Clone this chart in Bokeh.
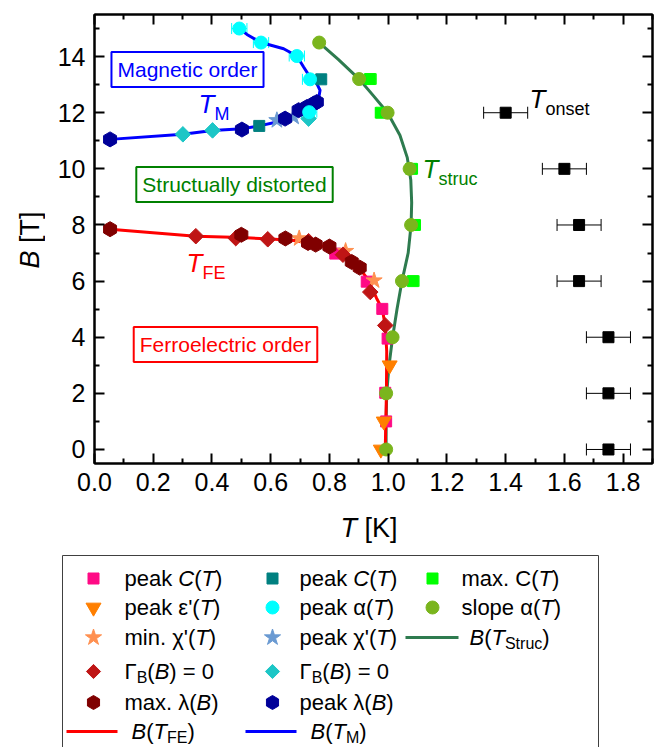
import numpy as np
from bokeh.plotting import figure
from bokeh.models import (Range1d, LinearAxis, FixedTicker, Label, Whisker, TeeHead,
                          ColumnDataSource)
from bokeh.layouts import column, row
from bokeh.embed import file_html
from bokeh.resources import INLINE

FONT = "Liberation Sans"

# ---------------- data (T in K, B in T) ----------------
fe_peakC_T = [0.820, 0.927, 0.980, 0.998, 0.990, 0.993]
fe_peakC_B = [6.98, 5.98, 5.01, 3.95, 2.02, 1.00]
eps_T = [0.975, 0.985, 1.005]
eps_B = [0.0, 1.0, 3.0]
minchi_T = [0.697, 0.855, 0.952]
minchi_B = [7.52, 7.07, 6.02]
fe_gamma_T = [0.345, 0.481, 0.590, 0.729, 0.846, 0.939, 0.990]
fe_gamma_B = [7.60, 7.53, 7.49, 7.42, 6.94, 5.61, 4.42]
fe_lam_T = [0.053, 0.500, 0.650, 0.727, 0.753, 0.800, 0.876, 0.903]
fe_lam_B = [7.85, 7.65, 7.52, 7.36, 7.30, 7.23, 6.68, 6.48]

m_peakC_T = [0.772, 0.561]
m_peakC_B = [13.19, 11.53]
alpha_T = [0.493, 0.567, 0.689, 0.734, 0.731]
alpha_B = [15.00, 14.50, 14.02, 13.19, 12.02]
alpha_err = [0.026, 0.026, 0.026, 0.026, 0.026]
m_chi_T = [0.621, 0.678]
m_chi_B = [11.73, 11.85]
m_gamma_T = [0.301, 0.402, 0.729]
m_gamma_B = [11.23, 11.37, 11.79]
m_lam_T = [0.053, 0.502, 0.649, 0.695, 0.723, 0.746, 0.757]
m_lam_B = [11.05, 11.40, 11.79, 12.09, 12.20, 12.32, 12.38]

maxC_T = [0.939, 0.976, 1.080, 1.090, 1.085]
maxC_B = [13.2, 12.0, 10.0, 8.0, 6.0]
maxC_err = [0.02, 0.02, 0.02, 0.02, 0.02]
slope_T = [0.765, 0.901, 0.998, 1.073, 1.078, 1.047, 1.015, 0.993, 0.993]
slope_B = [14.5, 13.2, 12.0, 10.0, 8.0, 6.0, 4.0, 2.0, 0.0]

onset_T = [1.40, 1.60, 1.65, 1.65, 1.75, 1.75, 1.75]
onset_B = [12, 10, 8, 6, 4, 2, 0]
onset_err = [0.075, 0.075, 0.075, 0.075, 0.075, 0.075, 0.075]

# phase-boundary lines
struc_line_T = [0.765, 0.830, 0.901, 0.950, 0.998, 1.040, 1.065, 1.077, 1.080, 1.078,
                1.068, 1.047, 1.030, 1.015, 1.003, 0.995, 0.993, 0.993]
struc_line_B = [14.5, 13.9, 13.2, 12.6, 12.0, 11.2, 10.4, 9.6, 8.8, 8.0,
                7.0, 6.0, 5.0, 4.0, 3.0, 2.0, 1.0, 0.0]
fe_line_T = [0.053, 0.345, 0.500, 0.600, 0.680, 0.740, 0.800, 0.850, 0.900, 0.935,
             0.960, 0.980, 0.990, 0.995, 0.994, 0.992, 0.990]
fe_line_B = [7.85, 7.60, 7.55, 7.50, 7.45, 7.33, 7.20, 6.95, 6.50, 6.00,
             5.40, 5.00, 4.40, 3.50, 2.00, 1.00, 0.00]
m_line_T = [0.053, 0.301, 0.402, 0.502, 0.561, 0.621, 0.689, 0.746, 0.763, 0.768,
            0.757, 0.734, 0.712, 0.689, 0.644, 0.567, 0.519, 0.493]
m_line_B = [11.05, 11.23, 11.37, 11.43, 11.53, 11.67, 11.94, 12.26, 12.50, 12.80,
            13.04, 13.27, 13.63, 14.02, 14.28, 14.50, 14.79, 15.00]

x_ticks = [0.0, 0.2, 0.4, 0.6, 0.8, 1.0, 1.2, 1.4, 1.6, 1.8]
x_tick_labels = ["0.0", "0.2", "0.4", "0.6", "0.8", "1.0", "1.2", "1.4", "1.6", "1.8"]
x_minor = [0.1, 0.3, 0.5, 0.7, 0.9, 1.1, 1.3, 1.5, 1.7, 1.9]
y_ticks = [0, 2, 4, 6, 8, 10, 12, 14]
y_tick_labels = ["0", "2", "4", "6", "8", "10", "12", "14"]
y_minor = [1, 3, 5, 7, 9, 11, 13, 15]

# ---------------- colours ----------------
C_PINK = "#FF0A85"
C_ORANGE = "#FF7F00"
C_LORANGE = "#FF9050"
C_FIRE = "#BF1515"
C_MAROON = "#800000"
C_TEAL = "#008080"
C_CYAN = "#00FFFF"
C_STEEL = "#6A9AD2"
C_TURQ = "#1CC6C6"
C_NAVY = "#000099"
C_LIME = "#00FF00"
C_OLIVE = "#7AB51D"
C_STRUC = "#2E7B4F"

# ---------------- text width helper (Arial metrics) ----------------
WID = {' ': 278, '(': 333, ')': 333, '.': 278, "'": 191, '=': 584, '[': 278, ']': 278,
       'a': 556, 'b': 556, 'c': 500, 'd': 556, 'e': 556, 'f': 278, 'g': 556, 'h': 556,
       'i': 222, 'j': 222, 'k': 500, 'l': 222, 'm': 833, 'n': 556, 'o': 556, 'p': 556,
       'q': 556, 'r': 333, 's': 500, 't': 278, 'u': 556, 'v': 500, 'w': 722, 'x': 500,
       'y': 500, 'z': 500, 'A': 667, 'B': 667, 'C': 722, 'D': 722, 'E': 667, 'F': 611,
       'K': 667, 'M': 833, 'S': 667, 'T': 611, 'Γ': 552, 'ε': 446, 'α': 578, 'χ': 523,
       'λ': 500}


def tw(s, size):
    return sum(WID.get(ch, 556) for ch in s) / 1000.0 * size


def rich(fig, x0, y0, parts, color="black", conv=lambda a, b: (a, b), rotate=False):
    """Place styled text pieces one after another; (x0, y0) is the start of the baseline."""
    adv = 0.0
    for text, size, style, dy in parts:
        stripped = text.lstrip(" ")
        adv += tw(text[:len(text) - len(stripped)], size)
        mid = 0.35 * size  # cap-centre above baseline
        if rotate:
            px, py = x0 + dy - mid, y0 - adv
        else:
            px, py = x0 + adv, y0 + dy - mid
        dx_, dy_ = conv(px, py)
        fig.add_layout(Label(x=dx_, y=dy_, text=stripped, text_font=FONT,
                             text_font_size=f"{size}px", text_font_style=style,
                             text_color=color, text_align="left",
                             text_baseline="middle",
                             angle=(np.pi / 2 if rotate else 0)))
        adv += tw(stripped, size)


def blank_fig(w, h, xr, yr):
    f = figure(width=w, height=h, x_range=Range1d(*xr), y_range=Range1d(*yr),
               x_axis_type=None, y_axis_type=None, output_backend="svg",
               toolbar_location=None, min_border=0, outline_line_color=None,
               frame_align=False)
    f.grid.visible = False
    f.background_fill_color = "white"
    f.border_fill_color = "white"
    return f


# ---------------- geometry (page pixels) ----------------
TOP_H = 508
YT_W = 45
FL, FR, FT, FB = 94, 652, 14, 463
X0, X1, Y0, Y1 = 0.0, 1.9, -0.5, 15.5

# ---------------- main figure ----------------
p = figure(width=661 - YT_W, height=TOP_H, x_range=Range1d(X0, X1), y_range=Range1d(Y0, Y1),
           output_backend="svg", toolbar_location=None, frame_align=False,
           min_border_left=FL - YT_W, min_border_right=661 - FR, min_border_top=FT,
           min_border_bottom=TOP_H - FB)
p.grid.visible = False
p.outline_line_color = "black"
p.outline_line_width = 2
p.background_fill_color = "white"
p.border_fill_color = "white"


def conv_main(x, y):
    return (X0 + (x - FL) / (FR - FL) * (X1 - X0), Y0 + (FB - y) / (FB - FT) * (Y1 - Y0))


def style_axis(ax, ticks, minor, labels=None):
    ax.ticker = FixedTicker(ticks=ticks, minor_ticks=minor)
    ax.axis_line_width = 2
    ax.axis_line_color = "black"
    ax.major_tick_line_width = 2
    ax.minor_tick_line_width = 2
    ax.major_tick_line_color = "black"
    ax.minor_tick_line_color = "black"
    ax.major_tick_in = 10
    ax.major_tick_out = 0
    ax.minor_tick_in = 5
    ax.minor_tick_out = 0
    ax.axis_label = None
    if labels is not None:
        ax.major_label_overrides = dict(zip(ticks, labels))
        ax.major_label_text_font = FONT
        ax.major_label_text_font_size = "25px"
        ax.major_label_text_color = "black"
        ax.major_label_standoff = 9
    else:
        ax.major_label_overrides = {t: "" for t in ticks}
        ax.major_label_text_font_size = "0px"
        ax.major_label_standoff = 0


style_axis(p.xaxis[0], x_ticks, x_minor, x_tick_labels)
style_axis(p.yaxis[0], y_ticks, y_minor, y_tick_labels)
top_ax = LinearAxis()
right_ax = LinearAxis()
style_axis(top_ax, x_ticks, x_minor)
style_axis(right_ax, y_ticks, y_minor)
p.add_layout(top_ax, "above")
p.add_layout(right_ax, "right")


def hbars(fig, xs, ys, errs, color, head):
    src = ColumnDataSource(dict(base=ys, lower=[a - e for a, e in zip(xs, errs)],
                                upper=[a + e for a, e in zip(xs, errs)]))
    fig.add_layout(Whisker(source=src, base="base", lower="lower", upper="upper",
                           dimension="width", line_color=color, line_width=1,
                           upper_head=TeeHead(size=head, line_color=color, line_width=1),
                           lower_head=TeeHead(size=head, line_color=color, line_width=1)))


hbars(p, alpha_T, alpha_B, alpha_err, C_CYAN, 11)
hbars(p, maxC_T, maxC_B, maxC_err, C_LIME, 11)
hbars(p, onset_T, onset_B, onset_err, "black", 12)

p.line(struc_line_T, struc_line_B, line_color=C_STRUC, line_width=3)
p.line(fe_line_T, fe_line_B, line_color="#FF0000", line_width=3)
p.line(m_line_T, m_line_B, line_color="#0000FF", line_width=3)


def pts(fig, xs, ys, marker, size, color, angle=0.0):
    fig.scatter(xs, ys, marker=marker, size=size, fill_color=color, line_color=color,
                angle=angle)


pts(p, fe_peakC_T, fe_peakC_B, "square", 11, C_PINK)
pts(p, eps_T, eps_B, "inverted_triangle", 15, C_ORANGE)
pts(p, minchi_T, minchi_B, "star", 17, C_LORANGE)
pts(p, fe_gamma_T, fe_gamma_B, "square", 11, C_FIRE, np.pi / 4)
pts(p, fe_lam_T, fe_lam_B, "hex", 15, C_MAROON, np.pi / 6)
pts(p, m_peakC_T, m_peakC_B, "square", 11, C_TEAL)
pts(p, m_chi_T, m_chi_B, "star", 17, C_STEEL)
pts(p, m_gamma_T, m_gamma_B, "square", 11, C_TURQ, np.pi / 4)
pts(p, m_lam_T, m_lam_B, "hex", 15, C_NAVY, np.pi / 6)
pts(p, alpha_T, alpha_B, "circle", 13, C_CYAN)
pts(p, maxC_T, maxC_B, "square", 11, C_LIME)
pts(p, slope_T, slope_B, "circle", 13, C_OLIVE)
pts(p, onset_T, onset_B, "square", 11, "black")


def boxed(fig, xc, yc, text, color):
    x, y = conv_main(xc, yc)
    fig.add_layout(Label(x=x, y=y, text=text, text_font=FONT, text_font_size="21px",
                         text_color=color, text_align="center", text_baseline="middle",
                         border_line_color=color, border_line_width=2,
                         background_fill_color="white", padding=6))


boxed(p, 187, 69, "Magnetic order", "#0000FF")
boxed(p, 234, 184, "Structually distorted", "#008000")
boxed(p, 225, 344, "Ferroelectric order", "#FF0000")

rich(p, 198, 113, [("T", 26, "italic", 0), ("M", 18, "normal", 7)], "#0000FF", conv_main)
rich(p, 186, 272, [("T", 26, "italic", 0), ("FE", 18, "normal", 7)], "#FF0000", conv_main)
rich(p, 422, 178, [("T", 26, "italic", 0), ("struc", 18, "normal", 7)], "#008000", conv_main)
rich(p, 529, 108, [("T", 26, "italic", 0), ("onset", 18, "normal", 7)], "black", conv_main)

# ---------------- y-axis title strip ----------------
yt = blank_fig(YT_W, TOP_H, (0, YT_W), (TOP_H, 0))
rich(yt, 39, 268, [("B", 27, "italic", 0), (" [T]", 27, "normal", 0)], rotate=True)

# ---------------- legend figure (also holds the x-axis title) ----------------
leg = blank_fig(661, 747 - TOP_H, (0, 661), (747, TOP_H))
rich(leg, 340, 537, [("T", 27, "italic", 0), (" [K]", 27, "normal", 0)])
leg.line([62, 62, 598, 598], [770, 555, 555, 770], line_color="#404040", line_width=1)

FS, SS = 22, 16
N, I = "normal", "italic"
rows = [578, 607, 637, 671, 702, 731]
cx = [93, 272, 432]
tx = [124, 299, 461]


def lg_text(col, r, parts, x=None):
    xs = tx[col] if x is None else x
    rich(leg, xs, rows[r] + 0.35 * FS, parts)


def sub(s):
    return (s, SS, N, 4)


pts(leg, [cx[0]], [rows[0]], "square", 11, C_PINK)
pts(leg, [cx[1]], [rows[0]], "square", 11, C_TEAL)
pts(leg, [cx[2]], [rows[0]], "square", 11, C_LIME)
pts(leg, [cx[0]], [rows[1]], "inverted_triangle", 15, C_ORANGE)
pts(leg, [cx[1]], [rows[1]], "circle", 13, C_CYAN)
pts(leg, [cx[2]], [rows[1]], "circle", 13, C_OLIVE)
pts(leg, [cx[0]], [rows[2]], "star", 17, C_LORANGE)
pts(leg, [cx[1]], [rows[2]], "star", 17, C_STEEL)
leg.line([405, 458], [rows[2], rows[2]], line_color=C_STRUC, line_width=3)
pts(leg, [cx[0]], [rows[3]], "square", 10, C_FIRE, np.pi / 4)
pts(leg, [cx[1]], [rows[3]], "square", 10, C_TURQ, np.pi / 4)
pts(leg, [cx[0]], [rows[4]], "hex", 14, C_MAROON, np.pi / 6)
pts(leg, [cx[1]], [rows[4]], "hex", 14, C_NAVY, np.pi / 6)
leg.line([66, 117], [rows[5], rows[5]], line_color="#FF0000", line_width=3)
leg.line([245, 296], [rows[5], rows[5]], line_color="#0000FF", line_width=3)

peakC = [("peak ", FS, N, 0), ("C", FS, I, 0), ("(", FS, N, 0), ("T", FS, I, 0), (")", FS, N, 0)]
lg_text(0, 0, peakC)
lg_text(1, 0, peakC)
lg_text(2, 0, [("max. C(", FS, N, 0), ("T", FS, I, 0), (")", FS, N, 0)])
lg_text(0, 1, [("peak ε'(", FS, N, 0), ("T", FS, I, 0), (")", FS, N, 0)])
lg_text(1, 1, [("peak α(", FS, N, 0), ("T", FS, I, 0), (")", FS, N, 0)])
lg_text(2, 1, [("slope α(", FS, N, 0), ("T", FS, I, 0), (")", FS, N, 0)])
lg_text(0, 2, [("min. χ'(", FS, N, 0), ("T", FS, I, 0), (")", FS, N, 0)])
lg_text(1, 2, [("peak χ'(", FS, N, 0), ("T", FS, I, 0), (")", FS, N, 0)])
lg_text(2, 2, [("B", FS, I, 0), ("(", FS, N, 0), ("T", FS, I, 0), sub("Struc"), (")", FS, N, 0)],
        x=469)
gam = [("Γ", FS, N, 0), sub("B"), ("(", FS, N, 0), ("B", FS, I, 0), (") = 0", FS, N, 0)]
lg_text(0, 3, gam)
lg_text(1, 3, gam)
lg_text(0, 4, [("max. λ(", FS, N, 0), ("B", FS, I, 0), (")", FS, N, 0)])
lg_text(1, 4, [("peak λ(", FS, N, 0), ("B", FS, I, 0), (")", FS, N, 0)])
lg_text(0, 5, [("B", FS, I, 0), ("(", FS, N, 0), ("T", FS, I, 0), sub("FE"), (")", FS, N, 0)],
        x=131)
lg_text(1, 5, [("B", FS, I, 0), ("(", FS, N, 0), ("T", FS, I, 0), sub("M"), (")", FS, N, 0)],
        x=310)

layout = column(row(yt, p), leg)
open("out.html", "w").write(file_html(layout, INLINE))
